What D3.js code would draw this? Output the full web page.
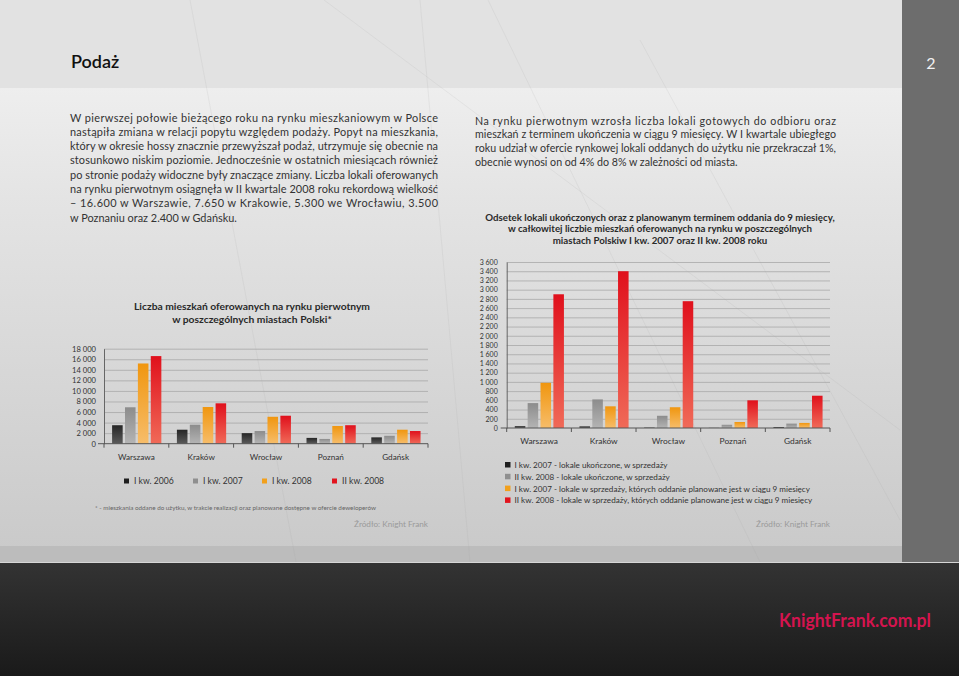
<!DOCTYPE html>
<html><head><meta charset="utf-8">
<script src="https://cdn.jsdelivr.net/npm/d3@7"></script>
<style>
html,body{margin:0;padding:0;background:#fff;}
svg{display:block;font-family:Lato,"Noto Sans",sans-serif;}
</style></head>
<body>
<svg id="page" width="959" height="676"></svg>
<script>
// ---------- DATA ----------
const cities = ["Warszawa", "Kraków", "Wrocław", "Poznań", "Gdańsk"];

const leftSeries = ["I kw. 2006", "I kw. 2007", "I kw. 2008", "II kw. 2008"];
const leftQ1_2006 = [3500, 2650, 2000, 1100, 1200];
const leftQ1_2007 = [6900, 3600, 2400, 900, 1500];
const leftQ1_2008 = [15200, 6950, 5100, 3350, 2650];
const leftQ2_2008 = [16600, 7650, 5300, 3500, 2400];
const leftTicks = [0, 2000, 4000, 6000, 8000, 10000, 12000, 14000, 16000, 18000];

const rightSeries = [
  "I kw. 2007 - lokale ukończone, w sprzedaży",
  "II kw. 2008 - lokale ukończone, w sprzedaży",
  "I kw. 2007 - lokale w sprzedaży, których oddanie planowane jest w ciągu 9 miesięcy",
  "II kw. 2008 - lokale w sprzedaży, których oddanie planowane jest w ciągu 9 miesięcy"
];
const rightDone2007 = [40, 35, 8, 3, 20];
const rightDone2008 = [540, 620, 265, 70, 95];
const rightPlan2007 = [980, 470, 450, 130, 110];
const rightPlan2008 = [2900, 3400, 2750, 600, 700];
const rightTicks = [0, 200, 400, 600, 800, 1000, 1200, 1400, 1600, 1800, 2000, 2200, 2400, 2600, 2800, 3000, 3200, 3400, 3600];

const headerTitle = "Podaż";
const pageNumber = "2";
const leftParagraph = [
  "W pierwszej połowie bieżącego roku na rynku mieszkaniowym w Polsce",
  "nastąpiła zmiana w relacji popytu względem podaży. Popyt na mieszkania,",
  "który w okresie hossy znacznie przewyższał podaż, utrzymuje się obecnie na",
  "stosunkowo niskim poziomie. Jednocześnie w ostatnich miesiącach również",
  "po stronie podaży widoczne były znaczące zmiany. Liczba lokali oferowanych",
  "na rynku pierwotnym osiągnęła w II kwartale 2008 roku rekordową wielkość",
  "– 16.600 w Warszawie, 7.650 w Krakowie, 5.300 we Wrocławiu, 3.500",
  "w Poznaniu oraz 2.400 w Gdańsku."
];
const rightParagraph = [
  "Na rynku pierwotnym wzrosła liczba lokali gotowych do odbioru oraz",
  "mieszkań z terminem ukończenia w ciągu 9 miesięcy. W I kwartale ubiegłego",
  "roku udział w ofercie rynkowej lokali oddanych do użytku nie przekraczał 1%,",
  "obecnie wynosi on od 4% do 8% w zależności od miasta."
];
const leftTitle = ["Liczba mieszkań oferowanych na rynku pierwotnym", "w poszczególnych miastach Polski*"];
const rightTitle = [
  "Odsetek lokali ukończonych oraz z planowanym terminem oddania do 9 miesięcy,",
  "w całkowitej liczbie mieszkań oferowanych na rynku w poszczególnych",
  "miastach Polskiw I kw. 2007 oraz II kw. 2008 roku"
];
const footnote = "* - mieszkania oddane do użytku, w trakcie realizacji oraz planowane dostępne w ofercie deweloperów";
const sourceText = "Źródło: Knight Frank";
const brand = "KnightFrank.com.pl";

// ---------- DRAW ----------
const svg = d3.select("#page");
const defs = svg.append("defs");

function vGrad(id, stops) {
  const g = defs.append("linearGradient").attr("id", id).attr("x1", 0).attr("y1", 0).attr("x2", 0).attr("y2", 1);
  stops.forEach(s => g.append("stop").attr("offset", s[0]).attr("stop-color", s[1]));
}
vGrad("bodyBg", [[0, "#f6f6f6"], [0.35, "#e4e4e4"], [1, "#c9c9c9"]]);
vGrad("footBg", [[0, "#333333"], [1, "#1a1a1a"]]);
vGrad("gDark", [[0, "#262626"], [1, "#5a5a5a"]]);
vGrad("gGray", [[0, "#8c8c8c"], [1, "#b4b4b4"]]);
vGrad("gOrange", [[0, "#f0960f"], [1, "#f7bd6a"]]);
vGrad("gRed", [[0, "#e0101c"], [1, "#f06a58"]]);
const fills = ["url(#gDark)", "url(#gGray)", "url(#gOrange)", "url(#gRed)"];
const legendColors = ["#1e1e1e", "#8f8f8f", "#f2a01c", "#e2141e"];

// backgrounds
svg.append("rect").attr("x", 0).attr("y", 0).attr("width", 959).attr("height", 563).attr("fill", "url(#bodyBg)");
svg.append("rect").attr("x", 0).attr("y", 546).attr("width", 959).attr("height", 16).attr("fill", "#bcbcbc");
svg.append("rect").attr("x", 0).attr("y", 0).attr("width", 959).attr("height", 88).attr("fill", "#e2e2e2");
svg.append("rect").attr("x", 0).attr("y", 562).attr("width", 959).attr("height", 1).attr("fill", "#d6d6d6");
svg.append("rect").attr("x", 0).attr("y", 563).attr("width", 959).attr("height", 113).attr("fill", "url(#footBg)");

// faint decorative lines
const deco = [[190, 0, 296, 562], [324, 0, 900, 430], [420, 0, 470, 562], [488, 0, 760, 562], [640, 40, 900, 520]];
svg.append("g").selectAll("line").data(deco).join("line")
  .attr("x1", d => d[0]).attr("y1", d => d[1]).attr("x2", d => d[2]).attr("y2", d => d[3])
  .attr("stroke", "#a0a0a0").attr("stroke-opacity", 0.14).attr("stroke-width", 1);

svg.append("rect").attr("x", 902).attr("y", 0).attr("width", 57).attr("height", 562).attr("fill", "#6d6d6d");

// header
svg.append("text").attr("x", 71).attr("y", 68).attr("font-size", 18).attr("font-weight", 600)
  .attr("fill", "#111").text(headerTitle);
svg.append("text").attr("x", 931).attr("y", 69).attr("text-anchor", "middle").attr("font-size", 16)
  .attr("fill", "#f2f2f2").text(pageNumber);

// paragraphs (justified via textLength, font fitted so the longest line fits)
function paragraph(lines, x, y0, width, lh, fs) {
  const g = svg.append("g").attr("font-size", fs).attr("fill", "#333");
  const texts = lines.map((t, i) => g.append("text").attr("x", x).attr("y", y0 + i * lh).text(t));
  const maxW = d3.max(texts, t => t.node().getComputedTextLength());
  if (maxW > width) g.attr("font-size", fs * width / maxW * 0.995);
  texts.forEach((tx, i) => {
    if (i < lines.length - 1) tx.attr("textLength", width).attr("lengthAdjust", "spacing");
  });
}
paragraph(leftParagraph, 70, 121.5, 368, 14.3, 11.3);
paragraph(rightParagraph, 475, 124.5, 361, 13.8, 11.3);

const fmt = v => d3.format(",")(v).replace(/,/g, " ");

function barChart(o) {
  const x0 = d3.scaleBand().domain(cities).range([o.x0, o.x1]);
  const span = x0.bandwidth();
  const x1 = d3.scaleBand().domain(d3.range(4)).range([span * 0.125, span * 0.885]).paddingInner(0.18);
  const y = d3.scaleLinear().domain([0, o.max]).range([o.yb, o.yt]);
  const g = svg.append("g");

  // grid
  g.append("g").attr("transform", `translate(${o.x0},0)`)
    .call(d3.axisLeft(y).tickValues(o.ticks.slice(1)).tickSize(-(o.x1 - o.x0)).tickFormat(""))
    .call(a => a.select(".domain").remove())
    .call(a => a.selectAll("line").attr("stroke", "#a8a8a8").attr("stroke-width", 0.8));

  // bars
  const rows = cities.map((c, i) => ({ city: c, vals: o.series.map(s => s[i]) }));
  g.append("g").selectAll("g").data(rows).join("g")
    .attr("transform", d => `translate(${x0(d.city)},0)`)
    .selectAll("rect").data(d => d.vals.map((v, k) => ({ v, k }))).join("rect")
    .attr("x", d => x1(d.k)).attr("width", x1.bandwidth())
    .attr("y", d => y(d.v)).attr("height", d => y(0) - y(d.v))
    .attr("fill", d => fills[d.k]);

  // y axis
  g.append("g").attr("transform", `translate(${o.x0},0)`)
    .call(d3.axisLeft(y).tickValues(o.ticks).tickSize(0).tickPadding(o.tp).tickFormat(fmt))
    .call(a => a.select(".domain").attr("stroke", "#666"))
    .call(a => a.selectAll("text").attr("font-size", o.tfs).attr("fill", "#333").attr("font-family", "Lato, sans-serif"));

  // x baseline with boundary ticks
  g.append("line").attr("x1", o.x0 - 6).attr("x2", o.x1).attr("y1", y(0)).attr("y2", y(0))
    .attr("stroke", "#555").attr("stroke-width", 1);
  const bounds = cities.map(c => x0(c)).concat([o.x1]);
  g.append("g").selectAll("line").data(bounds).join("line")
    .attr("x1", d => d).attr("x2", d => d).attr("y1", y(0)).attr("y2", y(0) + 4)
    .attr("stroke", "#555");
  g.append("g").attr("transform", `translate(0,${y(0)})`)
    .call(d3.axisBottom(x0).tickSize(0).tickPadding(o.xp))
    .call(a => a.select(".domain").remove())
    .call(a => a.selectAll("text").attr("font-size", o.cfs).attr("fill", "#333").attr("font-family", "Lato, sans-serif"));
}

barChart({ x0: 104, x1: 428, yt: 348.7, yb: 443.7, max: 18000, ticks: leftTicks,
  series: [leftQ1_2006, leftQ1_2007, leftQ1_2008, leftQ2_2008], tp: 8, tfs: 7.6, xp: 10, cfs: 8.2 });
barChart({ x0: 506.7, x1: 830, yt: 262, yb: 428, max: 3600, ticks: rightTicks,
  series: [rightDone2007, rightDone2008, rightPlan2007, rightPlan2008], tp: 9, tfs: 7, xp: 10, cfs: 8.4 });

// chart titles
svg.append("g").attr("font-size", 10.3).attr("font-weight", 700).attr("fill", "#2a2a2a").attr("text-anchor", "middle")
  .selectAll("text").data(leftTitle).join("text")
  .attr("x", 252).attr("y", (d, i) => 309.5 + i * 13).text(d => d);
svg.append("g").attr("font-size", 9.7).attr("font-weight", 700).attr("fill", "#2a2a2a").attr("text-anchor", "middle")
  .selectAll("text").data(rightTitle).join("text")
  .attr("x", 660).attr("y", (d, i) => 221 + i * 11.3).text(d => d);

// left legend
const legX = [124, 193, 262, 332];
const lg = svg.append("g").selectAll("g").data(leftSeries).join("g")
  .attr("transform", (d, i) => `translate(${legX[i]},478.5)`);
lg.append("rect").attr("width", 5).attr("height", 5).attr("fill", (d, i) => legendColors[i]);
lg.append("text").attr("x", 10).attr("y", 5.5).attr("font-size", 8.6).attr("fill", "#333").text(d => d);

svg.append("text").attr("x", 95).attr("y", 509.5).attr("font-size", 6.3).attr("fill", "#666").text(footnote);
svg.append("text").attr("x", 428).attr("y", 527).attr("text-anchor", "end").attr("font-size", 8.2).attr("fill", "#9a9a9a").text(sourceText);

// right legend
const rg = svg.append("g").selectAll("g").data(rightSeries).join("g")
  .attr("transform", (d, i) => `translate(505,${462 + i * 11.8})`);
rg.append("rect").attr("width", 5.5).attr("height", 5.5).attr("fill", (d, i) => legendColors[i]);
rg.append("text").attr("x", 9.5).attr("y", 6).attr("font-size", 8.1).attr("fill", "#333").text(d => d);
svg.append("text").attr("x", 830).attr("y", 527).attr("text-anchor", "end").attr("font-size", 8.2).attr("fill", "#9a9a9a").text(sourceText);

// footer brand
svg.append("text").attr("x", 931).attr("y", 627).attr("text-anchor", "end").attr("font-size", 19)
  .attr("font-weight", 700).attr("fill", "#d4144f").attr("textLength", 152).attr("lengthAdjust", "spacingAndGlyphs")
  .text(brand);
</script>
</body></html>
